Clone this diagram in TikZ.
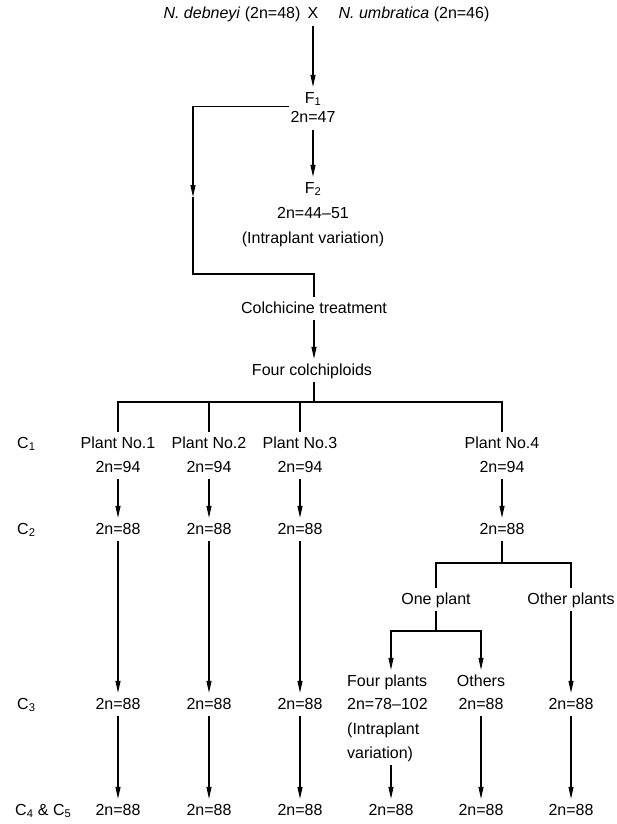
\documentclass[tikz,border=0pt]{standalone}
\usepackage{fontspec}
\setmainfont{Liberation Sans}
\usetikzlibrary{arrows.meta}
\begin{document}
\begin{tikzpicture}[x=1pt,y=-1pt,
  every node/.style={font=\fontsize{16}{19}\selectfont,anchor=base,inner xsep=1pt,inner ysep=4pt,text height=12pt,text depth=3pt},
  gen/.style={anchor=base west},
  ln/.style={line width=1.1pt},
  arr/.style={-{Triangle[length=12pt,width=5pt]},line width=1.1pt}]
  \useasboundingbox (0,0) rectangle (617,824);
  \node (deb) at (232,19) {\textit{N. debneyi} (2n=48)};
  \node (cross) at (313,19) {X};
  \node (umb) at (414,19) {\textit{N. umbratica} (2n=46)};
  \node (f1) at (313,103) {F\textsubscript{1}};
  \node (f1n) at (313,123) {2n=47};
  \node (f2) at (313,193) {F\textsubscript{2}};
  \node (f2n) at (313,218) {2n=44--51};
  \node (f2v) at (313,243) {(Intraplant variation)};
  \node (colch) at (314,313) {Colchicine treatment};
  \node (four) at (312,375) {Four colchiploids};
  \draw[arr] (cross) -- (f1);
  \draw[arr] (f1n) -- (f2);
  \coordinate (lmid) at (193,197);
  \coordinate (ljoin) at (314,274);
  \draw[arr] (f1n.north west) -| (lmid);
  \draw[ln] (lmid) |- (ljoin) -- (colch.north -| ljoin);
  \draw[arr] (colch.south -| ljoin) -- (four.north -| ljoin);
  % generations
  \node[gen] (g1) at (16,448) {C\textsubscript{1}};
  \node[gen] (g2) at (16,534) {C\textsubscript{2}};
  \node[gen] (g3) at (16,709) {C\textsubscript{3}};
  \node[gen] (g4) at (14,815) {C\textsubscript{4} \& C\textsubscript{5}};
  \node (p1) at (118,448) {Plant No.1};
  \node (p2) at (209,448) {Plant No.2};
  \node (p3) at (300,448) {Plant No.3};
  \node (p4) at (502,448) {Plant No.4};
  \node (a1) at (118,472) {2n=94};
  \node (a2) at (209,472) {2n=94};
  \node (a3) at (300,472) {2n=94};
  \node (a4) at (502,472) {2n=94};
  \coordinate (fork) at (314,402);
  \draw[ln] (four.south -| fork) -- (fork);
  \draw[ln] (p1.north) |- (fork) -| (p4.north);
  \draw[ln] (p2.north) -- (p2.north |- fork);
  \draw[ln] (p3.north) -- (p3.north |- fork);
  \node (b1) at (118,534) {2n=88};
  \node (b2) at (209,534) {2n=88};
  \node (b3) at (300,534) {2n=88};
  \node (b4) at (502,534) {2n=88};
  \draw[arr] (a1) -- (b1);
  \draw[arr] (a2) -- (b2);
  \draw[arr] (a3) -- (b3);
  \draw[arr] (a4) -- (b4);
  \node (one) at (436,604) {One plant};
  \node (oth) at (571,604) {Other plants};
  \coordinate (fork2) at (502,563);
  \draw[ln] (b4) -- (fork2);
  \draw[ln] (one.north) |- (fork2) -| (oth.north);
  \node[gen] (fp) at (346,686) {Four plants};
  \node[gen] (fpn) at (346,709) {2n=78--102};
  \node[gen] (fpi) at (346,734) {(Intraplant};
  \node[gen] (fpv) at (346,758) {variation)};
  \node (oths) at (481,686) {Others};
  \node (c1) at (118,709) {2n=88};
  \node (c2) at (209,709) {2n=88};
  \node (c3) at (300,709) {2n=88};
  \node (c5) at (481,709) {2n=88};
  \node (c6) at (571,709) {2n=88};
  \node (d1) at (118,815) {2n=88};
  \node (d2) at (209,815) {2n=88};
  \node (d3) at (300,815) {2n=88};
  \node (d4) at (391,815) {2n=88};
  \node (d5) at (481,815) {2n=88};
  \node (d6) at (571,815) {2n=88};
  \coordinate (fork3) at (436,631);
  \draw[ln] (one) -- (fork3);
  \draw[arr] (fork3) -| (d4 |- fp.north);
  \draw[arr] (fork3) -| (oths.north);
  \draw[arr] (oth) -- (c6);
  \draw[arr] (b1) -- (c1);
  \draw[arr] (b2) -- (c2);
  \draw[arr] (b3) -- (c3);
  \draw[arr] (c1) -- (d1);
  \draw[arr] (c2) -- (d2);
  \draw[arr] (c3) -- (d3);
  \draw[arr] (fpv.south -| d4) -- (d4);
  \draw[arr] (c5) -- (d5);
  \draw[arr] (c6) -- (d6);
\end{tikzpicture}
\end{document}
